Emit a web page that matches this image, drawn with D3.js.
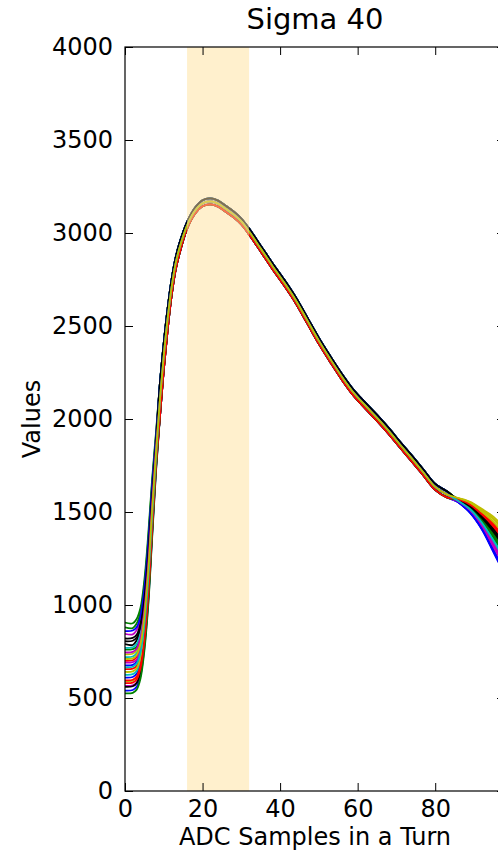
<!DOCTYPE html>
<html>
<head>
<meta charset="utf-8">
<script src="https://cdn.jsdelivr.net/npm/d3@7"></script>
<style>
  body { margin: 0; background: #fff; }
  text { font-family: "DejaVu Sans", sans-serif; fill: #000; }
</style>
</head>
<body>
<div id="chart"></div>
<script>
// sample positions (x) of the three parts of every trace
var sampleStart = [0, 2, 3, 4, 5, 6, 7, 8];
var sampleMid = [9, 10, 11, 12, 13, 14, 16, 18, 20, 22, 24, 26, 28, 30, 32, 35, 38, 41, 44, 47, 50, 53, 56, 59, 62, 65, 68, 71, 74, 77, 80, 83];
var sampleTail = [86, 89, 92, 95, 98];

// the bundle in the middle: upper edge, centre, lower edge
var midHigh = [2190, 2410, 2595, 2748, 2862, 2942, 3058, 3134, 3176, 3186, 3174, 3146, 3116, 3078, 3024, 2932, 2839, 2751, 2656, 2546, 2436, 2336, 2241, 2156, 2088, 2022, 1952, 1876, 1803, 1727, 1651, 1611];
var midCenter = [2100, 2340, 2540, 2705, 2830, 2915, 3040, 3118, 3160, 3170, 3158, 3130, 3100, 3062, 3008, 2916, 2823, 2735, 2640, 2530, 2420, 2320, 2225, 2140, 2072, 2006, 1936, 1860, 1787, 1711, 1635, 1595];
var midLow = [2010, 2265, 2480, 2660, 2795, 2885, 3022, 3102, 3144, 3154, 3142, 3114, 3084, 3046, 2992, 2900, 2807, 2719, 2624, 2514, 2404, 2304, 2209, 2124, 2056, 1990, 1920, 1844, 1771, 1695, 1619, 1579];

// per trace: colour, start of the pulse, which middle edge, tail
var traceColors = ['#0000ff', '#008000', '#ff0000', '#00bfbf', '#bf00bf', '#bfbf00', '#000000',
                   '#0000ff', '#008000', '#ff0000', '#00bfbf', '#bf00bf', '#bfbf00', '#000000',
                   '#0000ff', '#008000', '#ff0000', '#00bfbf', '#bf00bf', '#bfbf00', '#000000',
                   '#0000ff', '#008000', '#000000', '#ff0000', '#bf00bf', '#00bfbf', '#bfbf00'];

var startValues = [
    [610, 613, 630, 690, 840, 1085, 1431, 1767],
    [905, 902, 925, 985, 1135, 1380, 1679, 1929],
    [655, 658, 672, 735, 885, 1130, 1469, 1792],
    [720, 723, 740, 800, 950, 1195, 1524, 1827],
    [845, 842, 865, 925, 1075, 1320, 1629, 1896],
    [590, 593, 610, 670, 820, 1065, 1415, 1756],
    [790, 785, 810, 870, 1020, 1265, 1583, 1866],
    [540, 543, 560, 620, 770, 1015, 1373, 1728],
    [760, 763, 775, 840, 990, 1235, 1557, 1849],
    [700, 703, 720, 780, 930, 1175, 1507, 1816],
    [625, 628, 645, 705, 855, 1100, 1444, 1775],
    [565, 568, 582, 645, 795, 1040, 1394, 1742],
    [735, 738, 755, 815, 965, 1210, 1536, 1836],
    [820, 823, 840, 900, 1050, 1295, 1608, 1882],
    [675, 678, 695, 755, 905, 1150, 1486, 1803],
    [880, 876, 900, 960, 1110, 1355, 1658, 1915],
    [595, 598, 615, 675, 825, 1070, 1419, 1759],
    [770, 773, 790, 850, 1000, 1245, 1566, 1855],
    [690, 693, 705, 770, 920, 1165, 1499, 1811],
    [640, 643, 660, 720, 870, 1115, 1457, 1783],
    [560, 563, 580, 640, 790, 1035, 1389, 1739],
    [860, 863, 880, 940, 1090, 1335, 1641, 1904],
    [525, 528, 545, 605, 755, 1000, 1360, 1720],
    [805, 808, 825, 885, 1035, 1280, 1595, 1874],
    [580, 583, 600, 660, 810, 1055, 1406, 1750],
    [745, 748, 765, 825, 975, 1220, 1545, 1841],
    [665, 668, 685, 745, 895, 1140, 1478, 1797],
    [710, 713, 730, 790, 940, 1185, 1515, 1822]
];

var midBand = [2, 0, 1, 1, 0, 2, 0, 2, 1, 1, 2, 2, 1, 0, 1, 0, 2, 0, 1, 1, 2, 0, 2, 0, 2, 1, 1, 1];

var tailValues = [
    [1551, 1495, 1407, 1285, 1160],
    [1563, 1525, 1462, 1380, 1285],
    [1569, 1540, 1490, 1428, 1348],
    [1559, 1516, 1446, 1352, 1248],
    [1556, 1507, 1429, 1323, 1210],
    [1575, 1555, 1517, 1475, 1410],
    [1565, 1531, 1473, 1399, 1310],
    [1552, 1498, 1413, 1295, 1173],
    [1562, 1522, 1457, 1371, 1273],
    [1570, 1543, 1495, 1437, 1360],
    [1560, 1518, 1448, 1356, 1254],
    [1556, 1509, 1432, 1328, 1216],
    [1573, 1551, 1509, 1461, 1391],
    [1564, 1528, 1468, 1390, 1298],
    [1553, 1500, 1415, 1299, 1179],
    [1564, 1527, 1465, 1385, 1291],
    [1568, 1537, 1484, 1418, 1335],
    [1558, 1513, 1440, 1342, 1235],
    [1555, 1504, 1424, 1314, 1198],
    [1571, 1546, 1501, 1447, 1373],
    [1567, 1534, 1479, 1409, 1323],
    [1552, 1497, 1410, 1290, 1166],
    [1561, 1521, 1454, 1366, 1266],
    [1565, 1530, 1470, 1394, 1304],
    [1568, 1539, 1487, 1423, 1341],
    [1557, 1510, 1434, 1332, 1222],
    [1559, 1515, 1443, 1347, 1241],
    [1574, 1552, 1512, 1466, 1398]
];

var bandRange = [16, 32];
var xTicks = [0, 20, 40, 60, 80];
var yTicks = [0, 500, 1000, 1500, 2000, 2500, 3000, 3500, 4000];

var width = 498,
    height = 853,
    plot = {left: 125, right: 505, top: 47, bottom: 791};

var svg = d3.select('#chart')
    .append('svg')
    .attr('width', width)
    .attr('height', height);

var xScale = d3.scaleLinear().domain([0, 98]).range([plot.left, plot.right]);
var yScale = d3.scaleLinear().domain([0, 4000]).range([plot.bottom, plot.top]);

svg.append('clipPath').attr('id', 'clip')
    .append('rect')
    .attr('x', plot.left).attr('y', plot.top)
    .attr('width', plot.right - plot.left).attr('height', plot.bottom - plot.top);

// build the traces from the pieces
var middles = [midHigh, midCenter, midLow];
var traces = startValues.map(function(start, i) {
    var pts = [];
    start.forEach(function(v, j) { pts.push([sampleStart[j], v]); });
    middles[midBand[i]].forEach(function(v, j) { pts.push([sampleMid[j], v]); });
    tailValues[i].forEach(function(v, j) { pts.push([sampleTail[j], v]); });
    return {color: traceColors[i], points: pts};
});

var line = d3.line()
    .x(function(d) { return xScale(d[0]); })
    .y(function(d) { return yScale(d[1]); })
    .curve(d3.curveCatmullRom.alpha(0.5));

svg.append('g')
    .attr('clip-path', 'url(#clip)')
    .selectAll('path')
    .data(traces)
    .enter().append('path')
    .attr('d', function(d) { return line(d.points); })
    .attr('fill', 'none')
    .attr('stroke', function(d) { return d.color; })
    .attr('stroke-width', 1.8);

// shaded window, drawn over the traces
svg.append('rect')
    .attr('x', xScale(bandRange[0]))
    .attr('y', plot.top)
    .attr('width', xScale(bandRange[1]) - xScale(bandRange[0]))
    .attr('height', plot.bottom - plot.top)
    .attr('fill', 'rgb(255,225,155)')
    .attr('fill-opacity', 0.5);

// axes, ticks pointing inwards
var fmt = d3.format('d');
var xAxis = svg.append('g')
    .attr('transform', 'translate(0,' + plot.bottom + ')')
    .call(d3.axisBottom(xScale).tickValues(xTicks).tickSize(-8).tickPadding(12).tickFormat(fmt));
var xTop = svg.append('g')
    .attr('transform', 'translate(0,' + plot.top + ')')
    .call(d3.axisTop(xScale).tickValues(xTicks).tickSize(-8).tickFormat(''));
var yAxis = svg.append('g')
    .attr('transform', 'translate(' + plot.left + ',0)')
    .call(d3.axisLeft(yScale).tickValues(yTicks).tickSize(-8).tickPadding(12).tickFormat(fmt));
var yRight = svg.append('g')
    .attr('transform', 'translate(' + plot.right + ',0)')
    .call(d3.axisRight(yScale).tickValues(yTicks).tickSize(-8).tickFormat(''));

[xAxis, xTop, yAxis, yRight].forEach(function(g) {
    g.select('.domain').remove();
    g.selectAll('.tick line').attr('stroke', '#000').attr('stroke-width', 1);
    g.selectAll('.tick text')
        .attr('font-family', 'DejaVu Sans')
        .attr('font-size', 24)
        .attr('fill', '#000');
});
xAxis.selectAll('.tick text').attr('dy', '0.71em').attr('y', 9);

svg.append('rect')
    .attr('x', plot.left).attr('y', plot.top)
    .attr('width', plot.right - plot.left).attr('height', plot.bottom - plot.top)
    .attr('fill', 'none')
    .attr('stroke', '#000')
    .attr('stroke-width', 1.2);

// labels
svg.append('text')
    .attr('x', (plot.left + plot.right) / 2)
    .attr('y', 29)
    .attr('text-anchor', 'middle')
    .attr('font-size', 29)
    .text('Sigma 40');

svg.append('text')
    .attr('x', (plot.left + plot.right) / 2)
    .attr('y', 845)
    .attr('text-anchor', 'middle')
    .attr('font-size', 24)
    .text('ADC Samples in a Turn');

svg.append('text')
    .attr('transform', 'translate(40,' + (plot.top + plot.bottom) / 2 + ') rotate(-90)')
    .attr('text-anchor', 'middle')
    .attr('font-size', 24)
    .text('Values');
</script>
</body>
</html>
